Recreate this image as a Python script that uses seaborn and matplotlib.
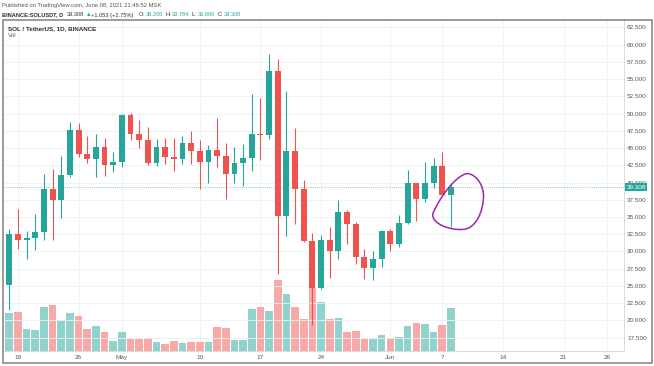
import numpy as np
import pandas as pd
import matplotlib
matplotlib.use("Agg")
import matplotlib.pyplot as plt
import matplotlib.transforms as mtransforms
from matplotlib.path import Path
from matplotlib.patches import PathPatch, Rectangle
import seaborn as sns


# daily candles SOL/USDT, 2021-04-18 .. 2021-06-08
dates = pd.date_range("2021-04-18", "2021-06-08", freq="D")
opens = [25.1, 32.6, 31.7, 31.9, 32.8, 39.1, 37.5, 41.1, 47.6, 44.1, 43.4, 45.1, 42.6,
         43.0, 49.8, 47.1, 46.2, 42.9, 45.2, 43.7, 43.4, 45.8, 44.6, 43.0, 44.7, 43.8,
         41.2, 42.9, 43.6, 47.1, 46.9, 56.2, 35.2, 44.6, 39.1, 31.5, 24.75, 31.7, 30.1,
         35.7, 34.0, 29.15, 27.55, 28.9, 33.0, 31.1, 34.2, 39.9, 37.6, 39.9, 42.4, 38.2]
highs = [33.2, 36.2, 33.0, 35.5, 41.3, 41.9, 43.8, 48.8, 48.7, 46.7, 47.1, 46.5, 44.4,
         49.9, 50.1, 49.1, 48.0, 46.3, 46.5, 46.5, 46.7, 47.4, 46.2, 45.4, 49.4, 45.8,
         45.1, 45.6, 52.8, 52.2, 58.6, 57.9, 53.2, 47.9, 40.3, 32.7, 32.4, 33.5, 37.5,
         36.0, 34.3, 30.3, 30.0, 33.1, 33.3, 35.3, 41.8, 40.0, 43.0, 43.6, 44.4, 39.784]
lows = [21.5, 30.3, 28.9, 30.2, 31.7, 31.7, 34.8, 40.8, 43.7, 42.8, 40.8, 41.0, 41.5,
        42.2, 46.2, 45.0, 42.5, 42.4, 42.7, 41.6, 42.7, 42.7, 39.1, 39.9, 42.3, 37.6,
        40.0, 39.5, 41.7, 43.3, 46.3, 26.7, 32.2, 34.0, 31.4, 19.3, 24.6, 26.1, 28.9,
        31.1, 28.2, 26.0, 25.9, 27.7, 30.0, 30.7, 34.0, 34.4, 37.2, 39.2, 38.2, 33.6]
closes = [32.6, 31.7, 31.9, 32.8, 39.1, 37.5, 41.1, 47.6, 44.1, 43.4, 45.1, 42.6, 43.0,
          49.8, 47.1, 46.2, 42.9, 45.2, 43.7, 43.4, 45.8, 44.6, 43.0, 44.7, 43.8, 41.2,
          42.9, 43.6, 47.1, 46.9, 56.2, 35.2, 44.6, 39.1, 31.5, 24.75, 31.7, 30.1, 35.7,
          34.0, 29.15, 27.55, 28.9, 33.0, 31.1, 34.2, 39.9, 37.6, 39.9, 42.4, 38.255, 39.308]
volumes = [18.9, 19.4, 11.2, 10.4, 22.2, 22.9, 15.4, 18.9, 17.4, 11.2, 12.4, 9.4, 5.2,
           9.4, 6.0, 6.0, 6.5, 4.5, 3.7, 5.2, 3.9, 4.7, 4.7, 4.4, 12.2, 11.5,
           5.4, 5.4, 20.9, 22.0, 19.9, 35.4, 28.5, 21.9, 16.2, 31.4, 24.4, 16.2, 16.7,
           9.4, 10.0, 6.2, 6.2, 8.2, 6.4, 6.9, 12.7, 14.0, 13.7, 9.7, 13.0, 21.4]

tick_dates = ["2021-04-19", "2021-04-26", "2021-05-01", "2021-05-10", "2021-05-17",
              "2021-05-24", "2021-06-01", "2021-06-07", "2021-06-14", "2021-06-21", "2021-06-26"]
tick_labels = ["19", "26", "May", "10", "17", "24", "Jun", "7", "14", "21", "26"]
price_ticks = [17.5, 20.0, 22.5, 25.0, 27.5, 30.0, 32.5, 35.0, 37.5, 40.0, 42.5,
               45.0, 47.5, 50.0, 52.5, 55.0, 57.5, 60.0, 62.5]
last_price = 39.308

# colors
up_color = "#26a69a"
down_color = "#ef5350"
vol_up = "#92d2cc"
vol_down = "#f7a9a7"
grid_color = "#eef1f5"
text_gray = "#555555"
text_dark = "#2a2e39"

df = pd.DataFrame({"date": dates, "open": opens, "high": highs, "low": lows,
                   "close": closes, "volume": volumes})
df["idx"] = np.arange(len(df))
df["dir"] = np.where(df["close"] >= df["open"], "up", "down")

sns.set_style("white")
plt.rcParams["font.family"] = ["Liberation Sans", "DejaVu Sans"]

W, H = 654, 366
fig = plt.figure(figsize=(W / 100, H / 100), dpi=100)

# volume pane (underneath)
ax_vol = fig.add_axes([4 / W, 15 / H, 620 / W, 330.5 / H])
sns.barplot(data=df, x="idx", y="volume", hue="dir",
            palette={"up": vol_up, "down": vol_down}, dodge=False, width=0.88,
            saturation=1, errorbar=None, legend=False, linewidth=0, ax=ax_vol)
ax_vol.set_ylim(0, 165.25)
ax_vol.set_yticks([])
ax_vol.set_xlabel("")
ax_vol.set_ylabel("")
tick_pos = [(pd.Timestamp(d) - dates[0]).days for d in tick_dates]
ax_vol.set_xticks(tick_pos)
ax_vol.set_xticklabels(tick_labels)
ax_vol.tick_params(axis="x", length=0, pad=3, labelsize=4.6, labelcolor=text_gray)
ax_vol.grid(axis="x", color=grid_color, lw=0.6)
ax_vol.set_xlim(-0.61, 70.98)
for s in ax_vol.spines.values():
    s.set_visible(False)

# price pane
ax = ax_vol.twinx()
colors = np.where(df["dir"] == "up", up_color, down_color)
ax.vlines(df["idx"], df["low"], df["high"], colors=colors, lw=0.8, zorder=3)
body_bottom = np.minimum(df["open"], df["close"])
body_h = np.maximum((df["close"] - df["open"]).abs(), 0.15)
ax.bar(df["idx"], body_h, bottom=body_bottom, width=0.68, color=colors, linewidth=0, zorder=4)

ax.set_ylim(15.57, 63.49)
ax.set_yticks(price_ticks)
ax.set_yticklabels([f"{v:.3f}" for v in price_ticks])
ax.tick_params(axis="y", length=0, pad=2.2, labelsize=4.6, labelcolor=text_gray)
ax.grid(axis="y", color=grid_color, lw=0.6)
ax.set_axisbelow(True)
for k in ["top", "left"]:
    ax.spines[k].set_visible(False)
for k in ["right", "bottom"]:
    ax.spines[k].set_color("#d1d4dc")
    ax.spines[k].set_linewidth(0.6)

# last price line + label
ax.axhline(last_price, color=up_color, lw=0.6, ls=(0, (1, 1.5)), alpha=0.7, zorder=2)
trans = mtransforms.blended_transform_factory(ax.transAxes, ax.transData)
ax.text(1.004, last_price, f"{last_price:.3f}", transform=trans, ha="left", va="center",
        fontsize=4.6, color="white", clip_on=False, zorder=6,
        bbox=dict(boxstyle="square,pad=0.25", fc=up_color, ec="none"))

# legend texts inside chart
ax.text(0.0065, 0.976, "SOL / TetherUS, 1D, BINANCE", transform=ax.transAxes,
        fontsize=4.5, fontweight="bold", color=text_dark, va="center", ha="left")
ax.text(0.0065, 0.954, "Vol", transform=ax.transAxes,
        fontsize=4.5, color=text_gray, va="center", ha="left")

# hand drawn purple loop around the last candle
loop = [(52.85, 41.31), (54.0, 41.2), (54.8, 39.5), (54.76, 37.9),
        (54.7, 35.8), (53.9, 33.2), (52.27, 33.19),
        (50.8, 33.1), (48.8, 34.0), (48.89, 35.43),
        (49.6, 37.6), (51.4, 40.9), (52.85, 41.31)]
codes = [Path.MOVETO] + [Path.CURVE4] * 12
ax.add_patch(PathPatch(Path(loop, codes), fill=False, ec="#9c27b0", lw=1.1, zorder=7))

# header
fig.text(2 / W, 1 - 6 / H, "Published on TradingView.com, June 08, 2021 21:46:52 MSK",
         fontsize=4.2, color=text_gray, va="center", ha="left")
header = [(2, "BINANCE:SOLUSDT, D", text_dark, "bold"),
          (67, "39.308", text_dark, "normal"),
          (86, "▲", up_color, "normal"),
          (91, "+1.053 (+2.75%)", text_dark, "normal"),
          (138.5, "O:", text_dark, "normal"),
          (145.5, "38.200", up_color, "normal"),
          (165.5, "H:", text_dark, "normal"),
          (172, "39.784", up_color, "normal"),
          (192, "L:", text_dark, "normal"),
          (197.5, "33.600", up_color, "normal"),
          (217.5, "C:", text_dark, "normal"),
          (224, "39.308", up_color, "normal")]
for x, s, color, weight in header:
    fig.text(x / W, 1 - 15 / H, s, color=color, fontweight=weight,
             fontsize=4.05, va="center", ha="left")

# outer frame
fig.add_artist(Rectangle((3 / W, 3 / H), 649 / W, 343 / H, transform=fig.transFigure,
                         fill=False, ec="#8a8a8a", lw=1.2))

fig.savefig("out.png", dpi=100)
